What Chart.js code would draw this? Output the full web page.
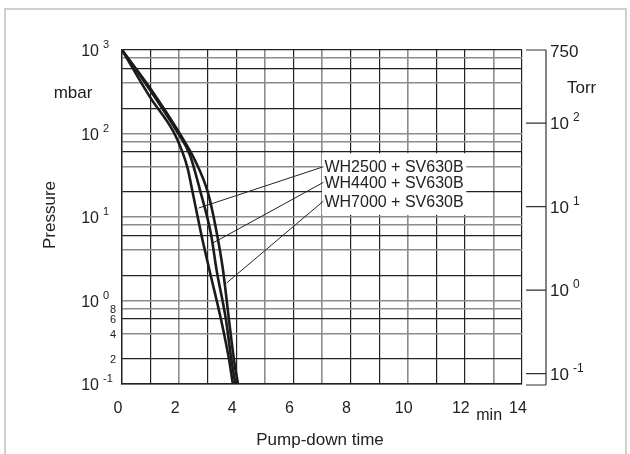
<!DOCTYPE html>
<html>
<head>
<meta charset="utf-8">
<script src="https://cdn.jsdelivr.net/npm/chart.js@4.4.1/dist/chart.umd.min.js"></script>
<style>
    html, body { margin: 0; padding: 0; background: #fff; }
    #wrap { position: relative; width: 630px; height: 454px; overflow: hidden; }
    #frame { position: absolute; left: 4px; top: 8px; width: 623px; height: 470px; border: 2px solid #cfcfcf; box-sizing: border-box; }
    canvas { position: absolute; left: 0; top: 0; }
</style>
</head>
<body>
<div id="wrap"><div id="frame"></div><canvas id="myChart" width="630" height="454" style="width:630px;height:454px"></canvas></div>
<script>
// pump-down curves, time in min, pressure in mbar
const timeA = [0, 0.98, 1.8, 2.1, 2.3, 2.47, 2.78, 3.06, 3.47, 3.75, 3.88];
const pressA = [1000, 273, 105, 62, 38, 19.9, 6.1, 2.32, 0.583, 0.194, 0.1];
const timeB = [0, 0.98, 1.96, 2.38, 2.73, 3.12, 3.31, 3.64, 3.83, 3.97];
const pressB = [1000, 332, 101, 55, 21, 6.1, 2.32, 0.583, 0.194, 0.1];
const timeC = [0, 0.98, 2.03, 2.55, 3.01, 3.33, 3.535, 3.745, 3.92, 4.06];
const pressC = [1000, 351, 98.6, 48, 19.4, 6.1, 2.32, 0.583, 0.194, 0.1];

const seriesNames = ["WH2500 + SV630B", "WH4400 + SV630B", "WH7000 + SV630B"];
// leader lines: [time, pressure] at label end and at curve end
const leaderFrom = [[7.05, 40], [7.05, 26], [7.05, 15.5]];
const leaderTo = [[2.68, 12.8], [3.19, 4.9], [3.66, 1.62]];

const xTicks = [0, 2, 4, 6, 8, 10, 12, 14];
const pressureGrid = [0.1, 0.2, 0.4, 0.6, 0.8, 1, 2, 4, 6, 8, 10, 20, 40, 60, 80, 100, 200, 400, 600, 800, 1000];
const decadeValues = [1000, 100, 10, 1, 0.1];
const decadeExps = ["3", "2", "1", "0", "-1"];
const minorValues = [0.8, 0.6, 0.4, 0.2];
const minorLabels = ["8", "6", "4", "2"];
const torrValues = [750, 100, 10, 1, 0.1];
const torrExps = [null, "2", "1", "0", "-1"];
const mbarPerTorr = 1.33322;
const xGridGray = [2, 5, 7, 10, 13];

const FONT = '"Liberation Sans", Arial, Helvetica, sans-serif';
const DARK = "#222";
const GRAY = "#8c8c8c";

const toPoints = (t, p) => t.map((v, i) => ({ x: v, y: p[i] }));

const curveStyle = {
    borderColor: "#1b1b1b",
    borderWidth: 2.6,
    pointRadius: 0,
    fill: false,
    cubicInterpolationMode: "monotone",
};
const leaderStyle = {
    borderColor: "#222",
    borderWidth: 1,
    pointRadius: 0,
    fill: false,
};

function power(ctx, xPos, yPos, exp, align, size, supSize) {
    ctx.font = `${size}px ${FONT}`;
    ctx.textBaseline = "alphabetic";
    const w = ctx.measureText("10").width;
    let left = align === "right" ? xPos - w : xPos;
    ctx.textAlign = "left";
    ctx.fillText("10", left, yPos + 6);
    ctx.font = `${supSize}px ${FONT}`;
    ctx.fillText(exp, left + w + 4, yPos - 2);
}

const textPlugin = {
    id: "texts",
    beforeDatasetsDraw(chart) {
        const { ctx, scales: { x, y } } = chart;
        // white box behind the series labels
        const bx0 = x.getPixelForValue(7.0);
        const bx1 = x.getPixelForValue(12.05);
        const by0 = y.getPixelForValue(58);
        const by1 = y.getPixelForValue(10.6);
        ctx.save();
        ctx.fillStyle = "#fff";
        ctx.fillRect(bx0, by0, bx1 - bx0, by1 - by0);
        ctx.restore();
    },
    afterDraw(chart) {
        const { ctx, chartArea: area, scales: { x, y } } = chart;
        ctx.save();
        ctx.fillStyle = DARK;

        // left decade labels
        decadeValues.forEach((v, i) => {
            power(ctx, 99, y.getPixelForValue(v), decadeExps[i], "right", 16, 11);
        });
        ctx.font = `11px ${FONT}`;
        ctx.textAlign = "right";
        ctx.textBaseline = "middle";
        minorValues.forEach((v, i) => {
            ctx.fillText(minorLabels[i], 116, y.getPixelForValue(v) + 1);
        });

        // units and titles
        ctx.font = `17px ${FONT}`;
        ctx.textAlign = "center";
        ctx.fillText("mbar", 73, 93);
        ctx.fillText("Pump-down time", (area.left + area.right) / 2 - 2, 440);
        ctx.font = `16px ${FONT}`;
        ctx.fillText("min", x.getPixelForValue(12.85), 416);
        ctx.save();
        ctx.translate(50, 215);
        ctx.rotate(-Math.PI / 2);
        ctx.font = `17px ${FONT}`;
        ctx.fillText("Pressure", 0, 0);
        ctx.restore();

        // right Torr axis
        const axX = area.right + 24;
        ctx.strokeStyle = "#333";
        ctx.lineWidth = 1.2;
        ctx.beginPath();
        ctx.moveTo(axX, area.top);
        ctx.lineTo(axX, area.bottom + 1);
        ctx.moveTo(area.right + 4, area.bottom + 1);
        ctx.lineTo(axX, area.bottom + 1);
        torrValues.forEach((t) => {
            const py = y.getPixelForValue(t * mbarPerTorr);
            ctx.moveTo(area.right + 4, py);
            ctx.lineTo(axX, py);
        });
        ctx.stroke();
        torrValues.forEach((t, i) => {
            const py = y.getPixelForValue(t * mbarPerTorr);
            if (torrExps[i] === null) {
                ctx.font = `17px ${FONT}`;
                ctx.textAlign = "left";
                ctx.textBaseline = "alphabetic";
                ctx.fillText(String(t), axX + 4, py + 7);
            } else {
                power(ctx, axX + 4, py, torrExps[i], "left", 17, 12);
            }
        });
        ctx.font = `17px ${FONT}`;
        ctx.textAlign = "left";
        ctx.textBaseline = "alphabetic";
        ctx.fillText("Torr", axX + 21, 93);

        // series labels
        ctx.font = `16px ${FONT}`;
        ctx.textBaseline = "middle";
        seriesNames.forEach((name, i) => {
            ctx.fillText(name, x.getPixelForValue(leaderFrom[i][0]) + 1, y.getPixelForValue(leaderFrom[i][1]) + 1);
        });
        ctx.restore();
    },
};

const ctx = document.getElementById("myChart");

new Chart(ctx, {
    type: "line",
    data: {
        datasets: [
            { label: seriesNames[0], data: toPoints(timeA, pressA), ...curveStyle },
            { label: seriesNames[1], data: toPoints(timeB, pressB), ...curveStyle },
            { label: seriesNames[2], data: toPoints(timeC, pressC), ...curveStyle },
            ...leaderFrom.map((p, i) => ({
                label: "leader" + i,
                data: [{ x: p[0], y: p[1] }, { x: leaderTo[i][0], y: leaderTo[i][1] }],
                ...leaderStyle,
            })),
        ],
    },
    options: {
        responsive: false,
        animation: false,
        devicePixelRatio: 1,
        layout: { padding: { top: 50, right: 108, left: 0, bottom: 0 } },
        plugins: { legend: { display: false }, tooltip: { enabled: false } },
        scales: {
            x: {
                type: "linear",
                min: 0,
                max: 14,
                afterFit: (s) => { s.height = 70; },
                ticks: {
                    stepSize: 1,
                    autoSkip: false,
                    maxRotation: 0,
                    padding: 15,
                    labelOffset: -4,
                    color: DARK,
                    font: { size: 16, family: FONT },
                    callback: (v) => (xTicks.includes(v) ? String(v) : ""),
                },
                grid: {
                    drawTicks: false,
                    color: (c) => (xGridGray.includes(c.tick.value) ? GRAY : DARK),
                    lineWidth: (c) => (xGridGray.includes(c.tick.value) ? 1.6 : 1.2),
                },
                border: { display: true, color: DARK, width: 1.4 },
            },
            y: {
                type: "logarithmic",
                min: 0.1,
                max: 1000,
                afterFit: (s) => { s.width = 122; },
                afterBuildTicks: (s) => { s.ticks = pressureGrid.map((v) => ({ value: v })); },
                ticks: { display: false },
                grid: {
                    drawTicks: false,
                    color: (c) => {
                        const m = Math.round(c.tick.value / Math.pow(10, Math.floor(Math.log10(c.tick.value) + 1e-9)));
                        return m === 2 || m === 6 || c.tick.value === 1000 ? DARK : GRAY;
                    },
                    lineWidth: (c) => {
                        const m = Math.round(c.tick.value / Math.pow(10, Math.floor(Math.log10(c.tick.value) + 1e-9)));
                        return m === 2 || m === 6 || c.tick.value === 1000 ? 1.2 : 1.6;
                    },
                },
                border: { display: true, color: DARK, width: 1.4 },
            },
        },
    },
    plugins: [textPlugin],
});
</script>
</body>
</html>
